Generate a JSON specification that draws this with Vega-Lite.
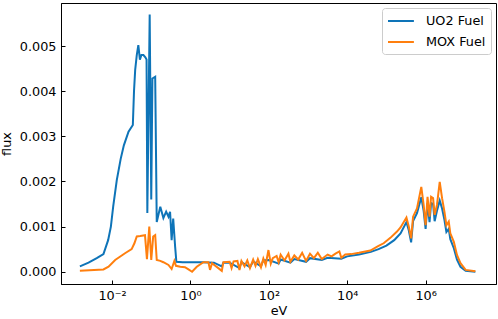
{
  "$schema": "https://vega.github.io/schema/vega-lite/v6.json",
  "width": 435,
  "height": 281,
  "autosize": {"type": "none"},
  "padding": {"left": 61, "top": 3, "right": 2, "bottom": 35},
  "config": {
    "font": "DejaVu Sans",
    "view": {"stroke": "#000", "strokeWidth": 1},
    "axis": {
      "grid": false,
      "domainColor": "#000",
      "tickColor": "#000",
      "labelColor": "#000",
      "titleColor": "#000",
      "labelFont": "DejaVu Sans",
      "titleFont": "DejaVu Sans",
      "labelFontSize": 12.8,
      "titleFontSize": 12.8,
      "titleFontWeight": "normal",
      "tickSize": -4,
      "labelPadding": 9
    }
  },
  "data": {
    "values": [
      {"eV": 0.00151, "flux": 0.00012, "fuel": "UO2 Fuel"},
      {"eV": 0.00251, "flux": 0.0002, "fuel": "UO2 Fuel"},
      {"eV": 0.00407, "flux": 0.0003, "fuel": "UO2 Fuel"},
      {"eV": 0.00603, "flux": 0.00039, "fuel": "UO2 Fuel"},
      {"eV": 0.00794, "flux": 0.0007, "fuel": "UO2 Fuel"},
      {"eV": 0.00933, "flux": 0.001, "fuel": "UO2 Fuel"},
      {"eV": 0.0107, "flux": 0.00145, "fuel": "UO2 Fuel"},
      {"eV": 0.0132, "flux": 0.00203, "fuel": "UO2 Fuel"},
      {"eV": 0.0166, "flux": 0.0025, "fuel": "UO2 Fuel"},
      {"eV": 0.02, "flux": 0.0028, "fuel": "UO2 Fuel"},
      {"eV": 0.0263, "flux": 0.0031, "fuel": "UO2 Fuel"},
      {"eV": 0.0339, "flux": 0.00325, "fuel": "UO2 Fuel"},
      {"eV": 0.0363, "flux": 0.004, "fuel": "UO2 Fuel"},
      {"eV": 0.0389, "flux": 0.00447, "fuel": "UO2 Fuel"},
      {"eV": 0.0427, "flux": 0.0048, "fuel": "UO2 Fuel"},
      {"eV": 0.0468, "flux": 0.00502, "fuel": "UO2 Fuel"},
      {"eV": 0.0513, "flux": 0.0047, "fuel": "UO2 Fuel"},
      {"eV": 0.0562, "flux": 0.0048, "fuel": "UO2 Fuel"},
      {"eV": 0.0631, "flux": 0.0048, "fuel": "UO2 Fuel"},
      {"eV": 0.0708, "flux": 0.00475, "fuel": "UO2 Fuel"},
      {"eV": 0.0759, "flux": 0.0047, "fuel": "UO2 Fuel"},
      {"eV": 0.0794, "flux": 0.0013, "fuel": "UO2 Fuel"},
      {"eV": 0.0912, "flux": 0.0057, "fuel": "UO2 Fuel"},
      {"eV": 0.1, "flux": 0.0016, "fuel": "UO2 Fuel"},
      {"eV": 0.107, "flux": 0.00428, "fuel": "UO2 Fuel"},
      {"eV": 0.126, "flux": 0.00432, "fuel": "UO2 Fuel"},
      {"eV": 0.138, "flux": 0.0011, "fuel": "UO2 Fuel"},
      {"eV": 0.17, "flux": 0.00144, "fuel": "UO2 Fuel"},
      {"eV": 0.204, "flux": 0.00119, "fuel": "UO2 Fuel"},
      {"eV": 0.24, "flux": 0.00133, "fuel": "UO2 Fuel"},
      {"eV": 0.275, "flux": 0.00122, "fuel": "UO2 Fuel"},
      {"eV": 0.302, "flux": 0.00133, "fuel": "UO2 Fuel"},
      {"eV": 0.331, "flux": 0.0007, "fuel": "UO2 Fuel"},
      {"eV": 0.363, "flux": 0.00118, "fuel": "UO2 Fuel"},
      {"eV": 0.407, "flux": 0.00055, "fuel": "UO2 Fuel"},
      {"eV": 0.437, "flux": 0.00022, "fuel": "UO2 Fuel"},
      {"eV": 0.631, "flux": 0.00021, "fuel": "UO2 Fuel"},
      {"eV": 1.0, "flux": 0.00021, "fuel": "UO2 Fuel"},
      {"eV": 2.0, "flux": 0.00021, "fuel": "UO2 Fuel"},
      {"eV": 3.98, "flux": 0.0002, "fuel": "UO2 Fuel"},
      {"eV": 6.31, "flux": 0.00012, "fuel": "UO2 Fuel"},
      {"eV": 6.92, "flux": 0.0002, "fuel": "UO2 Fuel"},
      {"eV": 10, "flux": 0.0002, "fuel": "UO2 Fuel"},
      {"eV": 17.8, "flux": 0.00008, "fuel": "UO2 Fuel"},
      {"eV": 20, "flux": 0.00021, "fuel": "UO2 Fuel"},
      {"eV": 33, "flux": 0.0001, "fuel": "UO2 Fuel"},
      {"eV": 40, "flux": 0.00023, "fuel": "UO2 Fuel"},
      {"eV": 63, "flux": 0.00012, "fuel": "UO2 Fuel"},
      {"eV": 72, "flux": 0.00025, "fuel": "UO2 Fuel"},
      {"eV": 100, "flux": 0.00026, "fuel": "UO2 Fuel"},
      {"eV": 178, "flux": 0.00018, "fuel": "UO2 Fuel"},
      {"eV": 200, "flux": 0.00027, "fuel": "UO2 Fuel"},
      {"eV": 355, "flux": 0.0002, "fuel": "UO2 Fuel"},
      {"eV": 447, "flux": 0.00028, "fuel": "UO2 Fuel"},
      {"eV": 891, "flux": 0.00022, "fuel": "UO2 Fuel"},
      {"eV": 1122, "flux": 0.0003, "fuel": "UO2 Fuel"},
      {"eV": 2239, "flux": 0.00026, "fuel": "UO2 Fuel"},
      {"eV": 3162, "flux": 0.00031, "fuel": "UO2 Fuel"},
      {"eV": 7079, "flux": 0.00029, "fuel": "UO2 Fuel"},
      {"eV": 10000, "flux": 0.00034, "fuel": "UO2 Fuel"},
      {"eV": 20000, "flux": 0.00038, "fuel": "UO2 Fuel"},
      {"eV": 40000, "flux": 0.00044, "fuel": "UO2 Fuel"},
      {"eV": 63000, "flux": 0.0005, "fuel": "UO2 Fuel"},
      {"eV": 100000, "flux": 0.00058, "fuel": "UO2 Fuel"},
      {"eV": 158000, "flux": 0.0007, "fuel": "UO2 Fuel"},
      {"eV": 229000, "flux": 0.00085, "fuel": "UO2 Fuel"},
      {"eV": 324000, "flux": 0.0011, "fuel": "UO2 Fuel"},
      {"eV": 372000, "flux": 0.00092, "fuel": "UO2 Fuel"},
      {"eV": 427000, "flux": 0.00065, "fuel": "UO2 Fuel"},
      {"eV": 479000, "flux": 0.00112, "fuel": "UO2 Fuel"},
      {"eV": 603000, "flux": 0.0013, "fuel": "UO2 Fuel"},
      {"eV": 776000, "flux": 0.00165, "fuel": "UO2 Fuel"},
      {"eV": 891000, "flux": 0.00135, "fuel": "UO2 Fuel"},
      {"eV": 1000000, "flux": 0.00095, "fuel": "UO2 Fuel"},
      {"eV": 1120000, "flux": 0.00152, "fuel": "UO2 Fuel"},
      {"eV": 1260000, "flux": 0.0011, "fuel": "UO2 Fuel"},
      {"eV": 1380000, "flux": 0.00152, "fuel": "UO2 Fuel"},
      {"eV": 1550000, "flux": 0.0015, "fuel": "UO2 Fuel"},
      {"eV": 1700000, "flux": 0.00112, "fuel": "UO2 Fuel"},
      {"eV": 1950000, "flux": 0.00135, "fuel": "UO2 Fuel"},
      {"eV": 2290000, "flux": 0.00158, "fuel": "UO2 Fuel"},
      {"eV": 2630000, "flux": 0.0014, "fuel": "UO2 Fuel"},
      {"eV": 3020000, "flux": 0.00115, "fuel": "UO2 Fuel"},
      {"eV": 3390000, "flux": 0.00088, "fuel": "UO2 Fuel"},
      {"eV": 3890000, "flux": 0.00095, "fuel": "UO2 Fuel"},
      {"eV": 4270000, "flux": 0.00072, "fuel": "UO2 Fuel"},
      {"eV": 5250000, "flux": 0.00052, "fuel": "UO2 Fuel"},
      {"eV": 6310000, "flux": 0.00027, "fuel": "UO2 Fuel"},
      {"eV": 7760000, "flux": 0.00011, "fuel": "UO2 Fuel"},
      {"eV": 10500000, "flux": 0.00002, "fuel": "UO2 Fuel"},
      {"eV": 18600000, "flux": 0.0, "fuel": "UO2 Fuel"},

      {"eV": 0.00151, "flux": 0.00002, "fuel": "MOX Fuel"},
      {"eV": 0.00603, "flux": 0.00005, "fuel": "MOX Fuel"},
      {"eV": 0.00813, "flux": 0.00011, "fuel": "MOX Fuel"},
      {"eV": 0.012, "flux": 0.00026, "fuel": "MOX Fuel"},
      {"eV": 0.0214, "flux": 0.00041, "fuel": "MOX Fuel"},
      {"eV": 0.0316, "flux": 0.0005, "fuel": "MOX Fuel"},
      {"eV": 0.0372, "flux": 0.00063, "fuel": "MOX Fuel"},
      {"eV": 0.0427, "flux": 0.00078, "fuel": "MOX Fuel"},
      {"eV": 0.0525, "flux": 0.00079, "fuel": "MOX Fuel"},
      {"eV": 0.0692, "flux": 0.00081, "fuel": "MOX Fuel"},
      {"eV": 0.0776, "flux": 0.00028, "fuel": "MOX Fuel"},
      {"eV": 0.0891, "flux": 0.001, "fuel": "MOX Fuel"},
      {"eV": 0.1, "flux": 0.00026, "fuel": "MOX Fuel"},
      {"eV": 0.112, "flux": 0.00078, "fuel": "MOX Fuel"},
      {"eV": 0.126, "flux": 0.00081, "fuel": "MOX Fuel"},
      {"eV": 0.138, "flux": 0.00026, "fuel": "MOX Fuel"},
      {"eV": 0.17, "flux": 0.00024, "fuel": "MOX Fuel"},
      {"eV": 0.204, "flux": 0.00021, "fuel": "MOX Fuel"},
      {"eV": 0.275, "flux": 0.00015, "fuel": "MOX Fuel"},
      {"eV": 0.331, "flux": 0.00006, "fuel": "MOX Fuel"},
      {"eV": 0.389, "flux": 0.00024, "fuel": "MOX Fuel"},
      {"eV": 0.427, "flux": 0.00013, "fuel": "MOX Fuel"},
      {"eV": 0.55, "flux": 0.00011, "fuel": "MOX Fuel"},
      {"eV": 0.724, "flux": 0.0001, "fuel": "MOX Fuel"},
      {"eV": 0.891, "flux": 0.00005, "fuel": "MOX Fuel"},
      {"eV": 1.1, "flux": 0.0, "fuel": "MOX Fuel"},
      {"eV": 1.45, "flux": 0.00011, "fuel": "MOX Fuel"},
      {"eV": 2.14, "flux": 0.00021, "fuel": "MOX Fuel"},
      {"eV": 2.88, "flux": 0.00021, "fuel": "MOX Fuel"},
      {"eV": 3.16, "flux": 0.00004, "fuel": "MOX Fuel"},
      {"eV": 3.55, "flux": 0.00019, "fuel": "MOX Fuel"},
      {"eV": 6.31, "flux": 0.00002, "fuel": "MOX Fuel"},
      {"eV": 6.92, "flux": 0.00021, "fuel": "MOX Fuel"},
      {"eV": 10, "flux": 0.00022, "fuel": "MOX Fuel"},
      {"eV": 11.2, "flux": 0.00008, "fuel": "MOX Fuel"},
      {"eV": 12.6, "flux": 0.00023, "fuel": "MOX Fuel"},
      {"eV": 15.8, "flux": 0.00024, "fuel": "MOX Fuel"},
      {"eV": 17.8, "flux": 0.00004, "fuel": "MOX Fuel"},
      {"eV": 20, "flux": 0.00024, "fuel": "MOX Fuel"},
      {"eV": 24, "flux": 0.00012, "fuel": "MOX Fuel"},
      {"eV": 28.2, "flux": 0.00025, "fuel": "MOX Fuel"},
      {"eV": 33, "flux": 0.00008, "fuel": "MOX Fuel"},
      {"eV": 39.8, "flux": 0.00027, "fuel": "MOX Fuel"},
      {"eV": 45.7, "flux": 0.00013, "fuel": "MOX Fuel"},
      {"eV": 52.5, "flux": 0.00028, "fuel": "MOX Fuel"},
      {"eV": 63, "flux": 0.0001, "fuel": "MOX Fuel"},
      {"eV": 72.4, "flux": 0.00029, "fuel": "MOX Fuel"},
      {"eV": 83, "flux": 0.00015, "fuel": "MOX Fuel"},
      {"eV": 97.7, "flux": 0.00048, "fuel": "MOX Fuel"},
      {"eV": 112, "flux": 0.00018, "fuel": "MOX Fuel"},
      {"eV": 126, "flux": 0.0003, "fuel": "MOX Fuel"},
      {"eV": 158, "flux": 0.00035, "fuel": "MOX Fuel"},
      {"eV": 178, "flux": 0.00021, "fuel": "MOX Fuel"},
      {"eV": 200, "flux": 0.00038, "fuel": "MOX Fuel"},
      {"eV": 251, "flux": 0.00025, "fuel": "MOX Fuel"},
      {"eV": 316, "flux": 0.0004, "fuel": "MOX Fuel"},
      {"eV": 355, "flux": 0.00022, "fuel": "MOX Fuel"},
      {"eV": 447, "flux": 0.00036, "fuel": "MOX Fuel"},
      {"eV": 562, "flux": 0.00027, "fuel": "MOX Fuel"},
      {"eV": 708, "flux": 0.00042, "fuel": "MOX Fuel"},
      {"eV": 891, "flux": 0.00024, "fuel": "MOX Fuel"},
      {"eV": 1122, "flux": 0.0004, "fuel": "MOX Fuel"},
      {"eV": 1413, "flux": 0.0003, "fuel": "MOX Fuel"},
      {"eV": 1778, "flux": 0.00042, "fuel": "MOX Fuel"},
      {"eV": 2239, "flux": 0.00028, "fuel": "MOX Fuel"},
      {"eV": 3162, "flux": 0.00038, "fuel": "MOX Fuel"},
      {"eV": 3981, "flux": 0.00034, "fuel": "MOX Fuel"},
      {"eV": 5012, "flux": 0.0004, "fuel": "MOX Fuel"},
      {"eV": 6310, "flux": 0.00045, "fuel": "MOX Fuel"},
      {"eV": 7079, "flux": 0.00031, "fuel": "MOX Fuel"},
      {"eV": 8913, "flux": 0.00038, "fuel": "MOX Fuel"},
      {"eV": 12589, "flux": 0.00039, "fuel": "MOX Fuel"},
      {"eV": 20000, "flux": 0.00042, "fuel": "MOX Fuel"},
      {"eV": 38900, "flux": 0.00047, "fuel": "MOX Fuel"},
      {"eV": 63000, "flux": 0.00057, "fuel": "MOX Fuel"},
      {"eV": 85000, "flux": 0.00063, "fuel": "MOX Fuel"},
      {"eV": 126000, "flux": 0.00075, "fuel": "MOX Fuel"},
      {"eV": 186000, "flux": 0.00089, "fuel": "MOX Fuel"},
      {"eV": 229000, "flux": 0.00098, "fuel": "MOX Fuel"},
      {"eV": 324000, "flux": 0.0012, "fuel": "MOX Fuel"},
      {"eV": 372000, "flux": 0.001, "fuel": "MOX Fuel"},
      {"eV": 427000, "flux": 0.00074, "fuel": "MOX Fuel"},
      {"eV": 479000, "flux": 0.00122, "fuel": "MOX Fuel"},
      {"eV": 603000, "flux": 0.0014, "fuel": "MOX Fuel"},
      {"eV": 776000, "flux": 0.00188, "fuel": "MOX Fuel"},
      {"eV": 891000, "flux": 0.00148, "fuel": "MOX Fuel"},
      {"eV": 1000000, "flux": 0.00103, "fuel": "MOX Fuel"},
      {"eV": 1120000, "flux": 0.00166, "fuel": "MOX Fuel"},
      {"eV": 1260000, "flux": 0.00122, "fuel": "MOX Fuel"},
      {"eV": 1380000, "flux": 0.00166, "fuel": "MOX Fuel"},
      {"eV": 1550000, "flux": 0.00163, "fuel": "MOX Fuel"},
      {"eV": 1700000, "flux": 0.00126, "fuel": "MOX Fuel"},
      {"eV": 1950000, "flux": 0.00148, "fuel": "MOX Fuel"},
      {"eV": 2290000, "flux": 0.00199, "fuel": "MOX Fuel"},
      {"eV": 2630000, "flux": 0.00163, "fuel": "MOX Fuel"},
      {"eV": 3020000, "flux": 0.00133, "fuel": "MOX Fuel"},
      {"eV": 3390000, "flux": 0.00103, "fuel": "MOX Fuel"},
      {"eV": 3890000, "flux": 0.00111, "fuel": "MOX Fuel"},
      {"eV": 4270000, "flux": 0.00085, "fuel": "MOX Fuel"},
      {"eV": 5250000, "flux": 0.00066, "fuel": "MOX Fuel"},
      {"eV": 6310000, "flux": 0.00037, "fuel": "MOX Fuel"},
      {"eV": 7760000, "flux": 0.00019, "fuel": "MOX Fuel"},
      {"eV": 10500000, "flux": 0.00004, "fuel": "MOX Fuel"},
      {"eV": 18600000, "flux": 0.00001, "fuel": "MOX Fuel"}
    ]
  },
  "mark": {"type": "line", "strokeWidth": 2, "clip": true},
  "encoding": {
    "x": {
      "field": "eV",
      "type": "quantitative",
      "scale": {"type": "log", "domain": [0.000498, 62500000]},
      "axis": {
        "title": "eV",
        "values": [0.01, 1, 100, 10000, 1000000],
        "labelExpr": "datum.value < 0.1 ? '10⁻²' : datum.value < 10 ? '10⁰' : datum.value < 1000 ? '10²' : datum.value < 100000 ? '10⁴' : '10⁶'",
        "titlePadding": 3
      }
    },
    "y": {
      "field": "flux",
      "type": "quantitative",
      "scale": {"domain": [-0.000272, 0.005953], "nice": false, "zero": false},
      "axis": {
        "title": "flux",
        "values": [0, 0.001, 0.002, 0.003, 0.004, 0.005],
        "format": ".3f",
        "titlePadding": 6
      }
    },
    "color": {
      "field": "fuel",
      "type": "nominal",
      "sort": null,
      "scale": {"domain": ["UO2 Fuel", "MOX Fuel"], "range": ["#0e74b8", "#ff7f0e"]},
      "legend": {
        "title": null,
        "orient": "none",
        "legendX": 321,
        "legendY": 5,
        "symbolType": "M-1,0H2.7",
        "symbolSize": 196,
        "symbolStrokeWidth": 2,
        "labelFontSize": 12.8,
        "labelFont": "DejaVu Sans",
        "labelColor": "#000",
        "labelOffset": 23,
        "rowPadding": 6,
        "padding": 5,
        "strokeColor": "#cccccc",
        "fillColor": "#ffffff",
        "cornerRadius": 3
      }
    }
  }
}
